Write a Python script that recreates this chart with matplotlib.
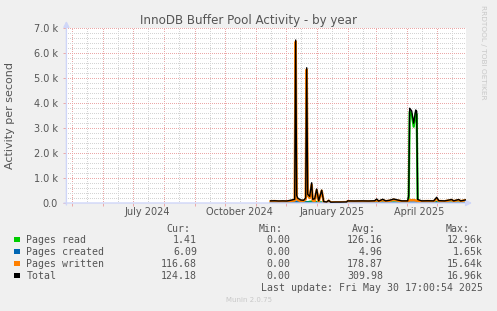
import numpy as np
import matplotlib
matplotlib.use("Agg")
import matplotlib.pyplot as plt
from matplotlib.patches import Rectangle
from matplotlib.ticker import MultipleLocator, FuncFormatter

# data (pages per second)
dates = ["2024-11-16", "2024-11-20", "2024-11-24", "2024-11-28", "2024-12-02",
         "2024-12-06", "2024-12-10", "2024-12-11", "2024-12-12", "2024-12-13",
         "2024-12-16", "2024-12-19", "2024-12-21", "2024-12-22", "2024-12-23",
         "2024-12-25", "2024-12-27", "2024-12-28", "2024-12-30", "2025-01-01",
         "2025-01-03", "2025-01-06", "2025-01-08", "2025-01-11", "2025-01-13",
         "2025-01-15", "2025-01-20", "2025-01-25", "2025-01-31", "2025-02-01",
         "2025-02-08", "2025-02-15", "2025-02-22", "2025-02-28", "2025-03-02",
         "2025-03-04", "2025-03-08", "2025-03-11", "2025-03-15", "2025-03-19",
         "2025-03-23", "2025-03-27", "2025-04-02", "2025-04-03", "2025-04-04",
         "2025-04-06", "2025-04-08", "2025-04-10", "2025-04-11", "2025-04-12",
         "2025-04-16", "2025-04-22", "2025-04-28", "2025-05-01", "2025-05-03",
         "2025-05-09", "2025-05-16", "2025-05-18", "2025-05-23", "2025-05-25",
         "2025-05-30"]
pages_read = [10, 10, 15, 10, 10, 20, 30, 40, 40, 30,
              20, 10, 30, 40, 30, 50, 60, 40, 80, 30,
              20, 20, 10, 5, 10, 5, 5, 5, 5, 10,
              10, 10, 10, 15, 30, 10, 20, 10, 15, 20,
              15, 10, 10, 200, 3650, 3550, 3050, 3600, 3550, 50,
              10, 10, 10, 40, 10, 10, 15, 10, 15, 10,
              1.41]
pages_created = [5, 5, 5, 5, 5, 10, 20, 30, 60, 50,
                 20, 10, 20, 30, 20, 10, 20, 10, 10, 10,
                 10, 5, 5, 5, 5, 2, 2, 2, 2, 5,
                 5, 5, 5, 5, 10, 5, 10, 5, 5, 10,
                 5, 5, 5, 10, 20, 20, 20, 20, 20, 10,
                 5, 5, 5, 20, 5, 5, 5, 5, 5, 5,
                 6.09]
pages_written = [70, 75, 60, 70, 65, 80, 100, 6450, 200, 120,
                 80, 90, 150, 5340, 300, 200, 730, 100, 80, 520,
                 60, 490, 40, 30, 90, 25, 30, 30, 35, 70,
                 65, 70, 65, 70, 120, 60, 120, 70, 90, 130,
                 100, 70, 70, 80, 120, 110, 120, 100, 100, 80,
                 70, 75, 70, 170, 80, 70, 120, 70, 120, 70,
                 116.68]
total = [r + c + w for r, c, w in zip(pages_read, pages_created, pages_written)]

tick_dates = ["2024-07-16", "2024-10-16", "2025-01-16", "2025-04-13"]
tick_labels = ["July 2024", "October 2024", "January 2025", "April 2025"]

legend_names = ["Pages read", "Pages created", "Pages written", "Total"]
legend_colors = ["#00CC00", "#0066B3", "#FF8000", "#000000"]
cur = ["1.41", "6.09", "116.68", "124.18"]
mins = ["0.00", "0.00", "0.00", "0.00"]
avgs = ["126.16", "4.96", "178.87", "309.98"]
maxs = ["12.96k", "1.65k", "15.64k", "16.96k"]

W, H = 497, 311
FONT = "#555555"
x = np.array(dates, dtype="datetime64[D]")

fig = plt.figure(figsize=(W / 100, H / 100), dpi=100, facecolor="#F0F0F0")
ax = fig.add_axes([66.4 / W, 108 / H, 400 / W, 175 / H], facecolor="#FFFFFF")

start = np.datetime64("2024-04-25T17:00")
end = np.datetime64("2025-05-30T17:00")
ax.set_xlim(start, end)
ax.set_ylim(0, 7000)

# grid: red at month starts, grey mid month; red every 1k, grey every 200
RED, GREY = "#EBA8A8", "#D4D4D4"
dots = dict(lw=0.72, ls=(0, (1, 2)), zorder=1, antialiased=False)
months = np.arange(np.datetime64("2024-05"), np.datetime64("2025-06"), np.timedelta64(1, "M"))
for m in months:
    d = m.astype("datetime64[D]")
    ax.axvline(d, color=RED, **dots)
    ax.axvline(d + 15, color=GREY, **dots)
for v in range(200, 7001, 200):
    ax.axhline(v, color=RED if v % 1000 == 0 else GREY, **dots)

ax.plot(x, pages_read, color=legend_colors[0], lw=1.6, zorder=3)
ax.plot(x, pages_created, color=legend_colors[1], lw=1.6, zorder=3)
ax.plot(x, pages_written, color=legend_colors[2], lw=1.8, zorder=3)
ax.plot(x, total, color=legend_colors[3], lw=1.0, zorder=4)

for s in ax.spines.values():
    s.set_visible(False)

ax.set_xticks(np.array(tick_dates, dtype="datetime64[D]"))
ax.set_xticklabels(tick_labels)
ax.tick_params(axis="x", length=0, pad=3, labelsize=7, labelcolor=FONT)
ax.set_xticks(months.astype("datetime64[D]"), minor=True)
ax.tick_params(axis="x", which="minor", length=2, color=RED, width=0.7)
ax.yaxis.set_major_locator(MultipleLocator(1000))
ax.yaxis.set_major_formatter(FuncFormatter(lambda v, p: "0.0" if v == 0 else "%.1f k" % (v / 1000)))
ax.tick_params(axis="y", length=2, color=RED, width=0.7, pad=4, labelsize=7, labelcolor=FONT)

# axis arrows
arrow = dict(arrowstyle="-|>,head_length=0.35,head_width=0.18", color="#CFD6F8", lw=1,
             shrinkA=0, shrinkB=0)
ax.annotate("", xy=(472, H - 203), xytext=(64, H - 203), xycoords="figure pixels",
            textcoords="figure pixels", arrowprops=arrow)
ax.annotate("", xy=(66.4, H - 21), xytext=(66.4, H - 205), xycoords="figure pixels",
            textcoords="figure pixels", arrowprops=arrow)

fig.text(248.5 / W, 1 - 24 / H, "InnoDB Buffer Pool Activity - by year", ha="center",
         va="baseline", fontsize=8.6, color=FONT)
fig.text(10.5 / W, 1 - 115 / H, "Activity per second", rotation=90, ha="center",
         va="center", fontsize=8, color=FONT)
fig.text(483 / W, 1 - 5 / H, "RRDTOOL / TOBI OETIKER", rotation=270, ha="center",
         va="top", fontsize=5.3, color="#C8C8C8")

# legend block
mono = dict(family="DejaVu Sans Mono", fontsize=7.1, color=FONT, va="baseline")
for lab, xr in zip(["Cur:", "Min:", "Avg:", "Max:"], [190, 283, 376, 470]):
    fig.text(xr / W, 1 - 231.7 / H, lab, ha="right", **mono)
for i in range(4):
    yb = 243 + 12.1 * i
    fig.add_artist(Rectangle((14 / W, 1 - (yb - 1.5) / H), 5.5 / W, 5 / H,
                             transform=fig.transFigure, color=legend_colors[i], lw=0))
    fig.text(26.5 / W, 1 - yb / H, legend_names[i], ha="left", **mono)
    for val, xr in zip([cur[i], mins[i], avgs[i], maxs[i]], [197, 290, 383, 483]):
        fig.text(xr / W, 1 - yb / H, val, ha="right", **mono)
fig.text(483 / W, 1 - 291 / H, "Last update: Fri May 30 17:00:54 2025", ha="right", **mono)
fig.text(248.5 / W, 1 - 302.5 / H, "Munin 2.0.75", ha="center", va="baseline",
         fontsize=5, color="#C8C8C8")

fig.savefig("out.png", dpi=100, facecolor=fig.get_facecolor())
